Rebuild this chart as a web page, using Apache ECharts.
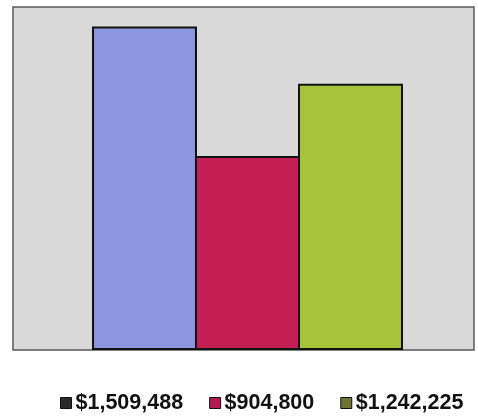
<!DOCTYPE html>
<html>
<head>
<meta charset="utf-8">
<script src="https://cdn.jsdelivr.net/npm/echarts@6/dist/echarts.min.js"></script>
<style>
  html, body { margin: 0; padding: 0; background: #fff; }
  #chart { width: 478px; height: 417px; }
</style>
</head>
<body>
<div id="chart"></div>
<script>
// one group, three bars; legend shows the amounts
const seriesNames = ['$1,509,488', '$904,800', '$1,242,225']
const seriesValues = [1509488, 904800, 1242225]
const barColors = ['#8e95e0', '#c41f55', '#a6c43a']
const legendColors = ['#2a2a2a', '#b01a4e', '#6e7434']

const chart = echarts.init(document.getElementById('chart'))

const hiddenAxis = {
  axisLine: { show: false },
  axisTick: { show: false },
  axisLabel: { show: false },
  splitLine: { show: false }
}

const series = seriesNames.map((name, i) => ({
  type: 'bar',
  name: name,
  xAxisIndex: 1,
  yAxisIndex: 1,
  data: [seriesValues[i]],
  barWidth: 105,
  barGap: '-1.9%',
  itemStyle: {
    color: barColors[i],
    borderColor: '#111',
    borderWidth: 2
  }
}))

chart.setOption({
  animation: false,
  backgroundColor: '#fff',
  grid: [
    // plot frame
    {
      left: 13, right: 4, top: 7, bottom: 67,
      show: true,
      backgroundColor: '#d8d9d8',
      borderColor: '#5a5a5a',
      borderWidth: 1.5
    },
    // bars sit a bit right of the frame centre
    { left: 21, right: 4, top: 7, bottom: 67 }
  ],
  xAxis: [
    { type: 'category', gridIndex: 0, data: [''], ...hiddenAxis },
    { type: 'category', gridIndex: 1, data: [''], ...hiddenAxis }
  ],
  yAxis: [
    { type: 'value', gridIndex: 0, min: 0, max: 1600000, ...hiddenAxis },
    { type: 'value', gridIndex: 1, min: 0, max: 1600000, ...hiddenAxis }
  ],
  legend: {
    top: 391,
    left: 60,
    padding: 0,
    icon: 'rect',
    itemWidth: 11,
    itemHeight: 11,
    itemGap: 26,
    data: seriesNames.map((name, i) => ({
      name: name,
      itemStyle: { color: legendColors[i], borderColor: '#111', borderWidth: 1 }
    })),
    textStyle: {
      fontFamily: 'Liberation Sans, Arial, sans-serif',
      fontWeight: 'bold',
      fontSize: 21.5,
      lineHeight: 24,
      color: '#111',
      padding: [0, 0, 0, -1]
    }
  },
  series: series
})
</script>
</body>
</html>
